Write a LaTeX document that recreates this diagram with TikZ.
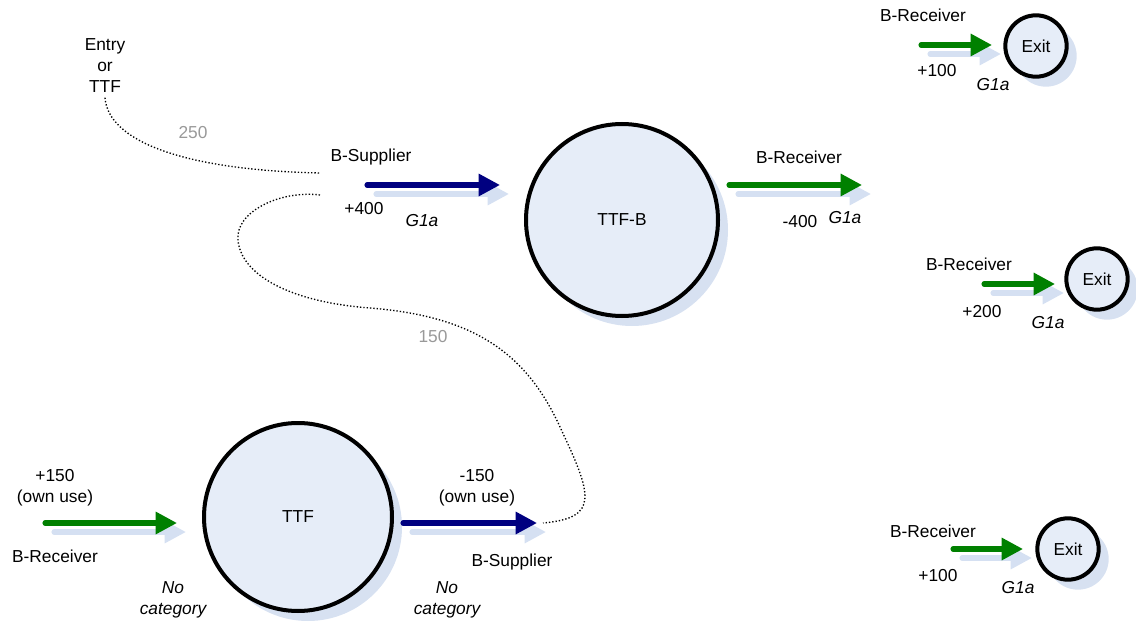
\documentclass[tikz,border=0pt]{standalone}
\usepackage{fontspec}
\setmainfont{Liberation Sans}
\usetikzlibrary{arrows.meta,shadows}

\definecolor{nodefill}{HTML}{E6EDF8}
\definecolor{nodeshade}{HTML}{D7E1F1}
\definecolor{arrowshade}{HTML}{D5E0F2}
\definecolor{supplyblue}{HTML}{000080}
\definecolor{receivegreen}{HTML}{008000}
\definecolor{amountgray}{HTML}{999999}

\tikzset{
  point/.style={circle, draw, line width=3pt, fill=nodefill, inner sep=0pt,
    general shadow={fill=nodeshade, shadow xshift=7.5pt, shadow yshift=-7.5pt}},
  exitpoint/.style={point, minimum size=46pt},
  flow/.style={line width=3.8pt, line cap=round, -{Triangle[length=16pt,width=16pt]}},
  flowshade/.style={flow, draw=arrowshade, transform canvas={shift={(6.75pt,-6.75pt)}}},
  supply/.style={flow, draw=supplyblue},
  receive/.style={flow, draw=receivegreen},
  link/.style={line width=1pt, dash pattern=on 1pt off 1.5pt},
  amount/.style={text=amountgray},
  cat/.style={font=\fontsize{13}{15.75}\selectfont\itshape, align=center}
}

\begin{document}
\begin{tikzpicture}[x=0.75pt, y=-0.75pt, font=\fontsize{13}{15.75}\selectfont]
    \useasboundingbox (0,0) rectangle (1136,624);

    % points
    \node[point, minimum size=144pt] (ttfb) at (622,220) {TTF-B};
    \node[point, minimum size=141pt] (ttf) at (298,517) {TTF};
    \node[exitpoint] (exit1) at (1036,46) {Exit};
    \node[exitpoint] (exit2) at (1097,279) {Exit};
    \node[exitpoint] (exit3) at (1068,549) {Exit};

    % entry side of TTF-B
    \node[align=center] (entry) at (105,66) {Entry\\or\\TTF};
    \node[amount] (n250) at (193,133) {250};
    \node (bsup1) at (371,157) {B-Supplier};
    \node (q400) at (364,209) {+400};
    \node[cat] (cat400) at (422,221) {G1a};
    \coordinate (s400) at (367,185);
    \coordinate (e400) at (500,185);
    \draw[flowshade] (s400) -- (e400);
    \draw[supply] (s400) -- (e400);

    % exit side of TTF-B
    \node (brec1) at (799,157) {B-Receiver};
    \node (qm400) at (800,222) {-400};
    \node[cat] (catm400) at (845,218) {G1a};
    \coordinate (sm400) at (729,185);
    \coordinate (em400) at (862,185);
    \draw[flowshade] (sm400) -- (em400);
    \draw[receive] (sm400) -- (em400);

    % TTF
    \node[align=center] (q150) at (55,488) {+150\\(own use)};
    \node (brec2) at (55,556) {B-Receiver};
    \node[cat] (cat150) at (173,600) {No\\category};
    \coordinate (s150) at (45,523);
    \coordinate (e150) at (177,523);
    \draw[flowshade] (s150) -- (e150);
    \draw[receive] (s150) -- (e150);

    \node[align=center] (qm150) at (477,488) {-150\\(own use)};
    \node (bsup2) at (512,562) {B-Supplier};
    \node[cat] (catm150) at (447,600) {No\\category};
    \coordinate (sm150) at (403,523);
    \coordinate (em150) at (537,523);
    \draw[flowshade] (sm150) -- (em150);
    \draw[supply] (sm150) -- (em150);

    % exits
    \node (brec3) at (923,15) {B-Receiver};
    \node (q100a) at (937,71) {+100};
    \node[cat] (cat100a) at (993,85) {G1a};
    \coordinate (sx1) at (921,45);
    \coordinate (ex1) at (992,45);
    \draw[flowshade] (sx1) -- (ex1);
    \draw[receive] (sx1) -- (ex1);

    \node (brec4) at (969,264) {B-Receiver};
    \node (q200) at (982,312) {+200};
    \node[cat] (cat200) at (1048,323) {G1a};
    \coordinate (sx2) at (984,284);
    \coordinate (ex2) at (1055,284);
    \draw[flowshade] (sx2) -- (ex2);
    \draw[receive] (sx2) -- (ex2);

    \node (brec5) at (933,531) {B-Receiver};
    \node (q100b) at (938,576) {+100};
    \node[cat] (cat100b) at (1018,588) {G1a};
    \coordinate (sx3) at (953,549);
    \coordinate (ex3) at (1023,549);
    \draw[flowshade] (sx3) -- (ex3);
    \draw[receive] (sx3) -- (ex3);

    % dotted links
    \coordinate (l250) at (320,173);
    \draw[link] (entry.south) .. controls (108,140) and (180,170) .. (l250);
    \node[amount] (n150) at (433,337) {150};
    \coordinate (l150a) at (320,195);
    \coordinate (l150b) at (543,523);
    \draw[link] (l150a) .. controls (280,190) and (235,212) .. (238,240)
        .. controls (241,275) and (290,302) .. (370,308)
        .. controls (470,316) and (525,350) .. (560,427)
        .. controls (592,495) and (600,518) .. (l150b);
\end{tikzpicture}
\end{document}
